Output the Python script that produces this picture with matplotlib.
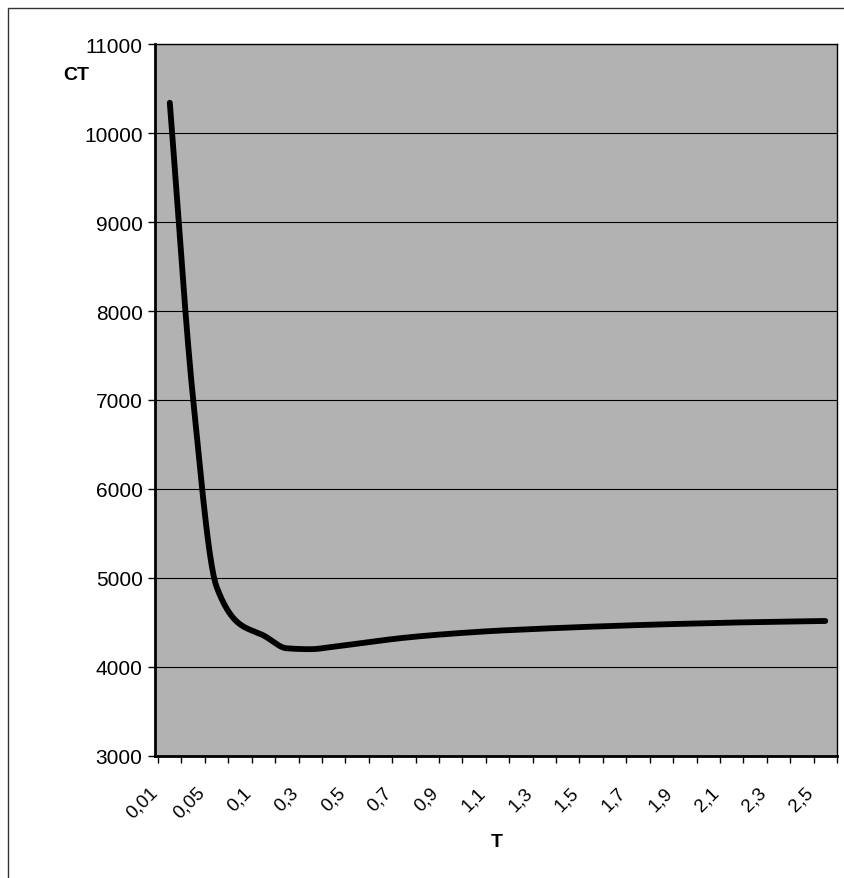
import numpy as np
import matplotlib
matplotlib.use("Agg")
import matplotlib.pyplot as plt
from matplotlib.patches import Rectangle

# categories on the T axis (every second one is labelled)
t_labels = ["0,01", "0,03", "0,05", "0,07", "0,1", "0,2", "0,3", "0,4", "0,5", "0,6",
            "0,7", "0,8", "0,9", "1", "1,1", "1,2", "1,3", "1,4", "1,5", "1,6",
            "1,7", "1,8", "1,9", "2", "2,1", "2,2", "2,3", "2,4", "2,5"]
ct_values = [10340, 7000, 4900, 4480, 4355, 4210, 4200, 4228, 4262, 4297,
             4328, 4353, 4374, 4392, 4408, 4420, 4432, 4443, 4453, 4462,
             4471, 4479, 4486, 4493, 4499, 4504, 4509, 4513, 4517]
y_ticks = [3000, 4000, 5000, 6000, 7000, 8000, 9000, 10000, 11000]


def smooth(ys, n=24):
    """Monotone cubic (Fritsch-Carlson) curve through evenly spaced points."""
    ys = np.asarray(ys, float)
    m = np.diff(ys)
    d = np.zeros_like(ys)
    for i in range(1, len(ys) - 1):
        if m[i - 1] * m[i] > 0:
            d[i] = 2.0 / (1.0 / m[i - 1] + 1.0 / m[i])
    d[0] = m[0]
    d[-1] = m[-1]
    t = np.linspace(0, 1, n, endpoint=False)
    h00 = 2 * t ** 3 - 3 * t ** 2 + 1
    h10 = t ** 3 - 2 * t ** 2 + t
    h01 = -2 * t ** 3 + 3 * t ** 2
    h11 = t ** 3 - t ** 2
    out_x, out_y = [], []
    for i in range(len(ys) - 1):
        out_x.extend(i + t)
        out_y.extend(h00 * ys[i] + h10 * d[i] + h01 * ys[i + 1] + h11 * d[i + 1])
    out_x.append(len(ys) - 1)
    out_y.append(ys[-1])
    return out_x, out_y


plt.rcParams['font.family'] = ['Liberation Sans', 'DejaVu Sans']

fig = plt.figure(figsize=(8.44, 8.79), dpi=100)
ax = fig.add_axes([0.1837, 0.1388, 0.808, 0.81])

# outer chart border
fig.patches.append(Rectangle((8 / 844, -0.01), 1.0, 1 - 9 / 879 + 0.01,
                             transform=fig.transFigure, fill=False,
                             edgecolor="#333333", linewidth=1))

ax.set_facecolor("#b2b2b2")
x = np.arange(len(t_labels))
sx, sy = smooth(ct_values)
ax.plot(sx, sy, color="black", linewidth=4.2, solid_capstyle="round", zorder=3)

ax.set_xlim(-0.5, len(t_labels) - 0.5)
ax.set_ylim(3000, 11000)
ax.set_yticks(y_ticks)
ax.set_yticklabels([str(v) for v in y_ticks], fontsize=15)
ax.grid(axis="y", color="black", linewidth=0.8)
ax.set_axisbelow(True)

# ticks between categories, labels on every second category
ax.set_xticks(np.arange(len(t_labels) + 1) - 0.5)
ax.set_xticklabels([])
ax.set_xticks(x[::2] - 0.63, minor=True)
ax.set_xticklabels(t_labels[::2], minor=True, rotation=45, ha="right",
                   va="center", rotation_mode="anchor", fontsize=13.5)
ax.tick_params(axis="x", which="major", length=5, width=1, direction="out")
ax.tick_params(axis="x", which="minor", length=0, pad=24)
ax.tick_params(axis="y", length=5, width=1, pad=4)

for side in ["left", "bottom"]:
    ax.spines[side].set_linewidth(2)
for side in ["top", "right"]:
    ax.spines[side].set_linewidth(1)

fig.text(63 / 844, 1 - 76 / 879, "CT", fontsize=14, fontweight="bold",
         va="center", ha="left")
fig.text(497 / 844, 1 - 843 / 879, "T", fontsize=14, fontweight="bold",
         va="center", ha="center")

fig.savefig("out.png", dpi=100)
